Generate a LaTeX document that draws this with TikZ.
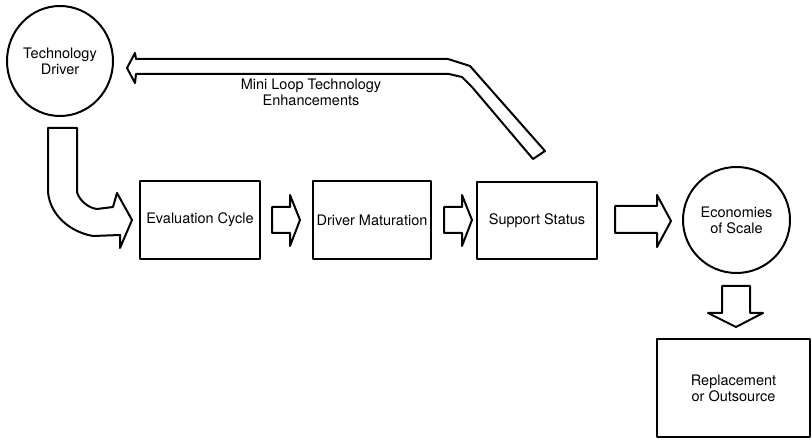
\documentclass[tikz,border=0pt]{standalone}
\usepackage{fontspec}
\setmainfont{TeX Gyre Heros}
\usetikzlibrary{shapes.geometric}
\begin{document}
\begin{tikzpicture}[x=1pt,y=-1pt,
  line join=round,
  txt/.style={font=\fontsize{14.5}{16}\selectfont, align=center, inner sep=0pt},
  box/.style={draw, line width=2pt, txt},
  blob/.style={draw, line width=2pt, ellipse, txt},
  blockarrow/.style={draw, line width=2pt, fill=white}]
\useasboundingbox (0,0) rectangle (812,446);

% stages
\node[blob, minimum width=106, minimum height=110] (tech) at (60,61) {Technology\\Driver};
\node[box, minimum width=120, minimum height=78] (eval) at (200,220) {Evaluation Cycle};
\node[box, minimum width=118, minimum height=78] (drv) at (372,220) {Driver Maturation};
\node[box, minimum width=120, minimum height=77] (supp) at (537,220.5) {Support Status};
\node[blob, minimum width=107, minimum height=106] (econ) at (736.5,220) {Economies\\of Scale};
\node[box, minimum width=153, minimum height=98] (repl) at (733.5,388) {Replacement\\or Outsource};

% feedback loop from support status back to the technology driver
\draw[blockarrow] (127,68) -- (135,53) -- (136,59) -- (448,59) -- (470,66)
  -- (545,151) -- (533,159) -- (472,87) -- (462,77) -- (449,74) -- (136,74)
  -- (135,83) -- cycle;
\node[txt] (loop) at (311,92) {Mini Loop Technology\\Enhancements};

% bent arrow from the driver into the evaluation cycle
\draw[blockarrow] (48,128) -- (77,128) -- (77,192)
  .. controls (79,200) and (88,208) .. (97,209) -- (113,207) -- (117,193)
  -- (132,220) -- (120,248) -- (120,235) -- (93,236)
  .. controls (70,232) and (50,215) .. (48,192) -- cycle;

% straight block arrows along the chain
\draw[blockarrow] (272,207) -- (290,207) -- (290,195) -- (300,220) -- (290,246)
  -- (290,233) -- (272,233) -- cycle;
\draw[blockarrow] (444,207) -- (462,207) -- (462,195) -- (472,220) -- (462,246)
  -- (462,233) -- (444,233) -- cycle;
\draw[blockarrow] (615,206) -- (657,206) -- (657,195) -- (671,221) -- (657,247)
  -- (657,233) -- (615,233) -- cycle;
\draw[blockarrow] (722,286) -- (750,286) -- (750,313) -- (763,313) -- (736,327)
  -- (708,313) -- (722,313) -- cycle;
\end{tikzpicture}
\end{document}
